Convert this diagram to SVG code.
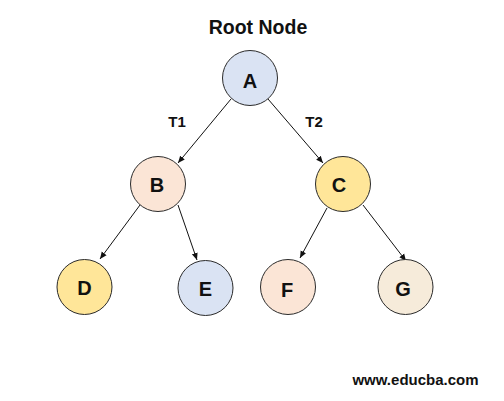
<svg xmlns="http://www.w3.org/2000/svg" width="504" height="401" viewBox="0 0 504 401">
<defs>
<style>
.n{stroke:#2b2b2b;stroke-width:1}
.t{font-family:"Liberation Sans",Arial,sans-serif;font-weight:bold;fill:#111;text-anchor:middle}
.e{stroke:#111;stroke-width:1;fill:none;marker-end:url(#ah)}
</style>
<marker id="ah" markerWidth="8" markerHeight="8" refX="7" refY="4" orient="auto" markerUnits="userSpaceOnUse">
<path d="M0,1 L7,4 L0,7 Z" fill="#111"/>
</marker>
</defs>
<rect width="504" height="401" fill="#fff"/>
<text class="t" x="258" y="34" font-size="19.5">Root Node</text>
<g id="connectors">
<line class="e" x1="231" y1="99" x2="178" y2="163"/>
<line class="e" x1="268" y1="99" x2="323" y2="163"/>
<line class="e" x1="140" y1="205" x2="100" y2="259"/>
<line class="e" x1="178" y1="205" x2="197" y2="260"/>
<line class="e" x1="327" y1="208" x2="300" y2="258"/>
<line class="e" x1="363" y1="205" x2="406" y2="261"/>
</g>
<g id="A"><circle class="n" cx="250" cy="78" r="27.5" fill="#DAE3F3"/><text class="t" x="250" y="88" font-size="20">A</text></g>
<g id="B"><circle class="n" cx="158" cy="184" r="27.5" fill="#FBE5D6"/><text class="t" x="157" y="192" font-size="20">B</text></g>
<g id="C"><circle class="n" cx="343" cy="184" r="27.5" fill="#FFE699"/><text class="t" x="339" y="192" font-size="20">C</text></g>
<g id="D"><circle class="n" cx="84.5" cy="287" r="27.5" fill="#FFE699"/><text class="t" x="84.5" y="295" font-size="20">D</text></g>
<g id="E"><circle class="n" cx="205.5" cy="288" r="27.5" fill="#DAE3F3"/><text class="t" x="205.5" y="296" font-size="20">E</text></g>
<g id="F"><circle class="n" cx="288" cy="287" r="27.5" fill="#FBE5D6"/><text class="t" x="287" y="297" font-size="20">F</text></g>
<g id="G"><circle class="n" cx="405.5" cy="287" r="27.5" fill="#F6EBDA"/><text class="t" x="403" y="296" font-size="20">G</text></g>
<g id="labels">
<text class="t" x="177" y="127" font-size="15">T1</text>
<text class="t" x="314" y="127" font-size="15">T2</text>
</g>
<text class="t" x="415.5" y="385" font-size="15">www.educba.com</text>
</svg>
